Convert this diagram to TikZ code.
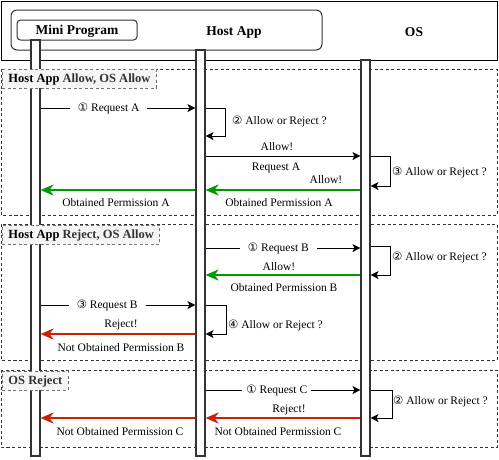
\documentclass[tikz,border=0pt]{standalone}
\usepackage{fontspec}
\setmainfont{Liberation Serif}
\newfontfamily\symfont{DejaVu Sans}
\usetikzlibrary{arrows.meta}
\definecolor{okgreen}{RGB}{0,153,0}
\definecolor{nored}{RGB}{204,32,0}
\definecolor{lblgrey}{RGB}{51,51,51}
\definecolor{tagfill}{RGB}{245,245,245}
\newcommand{\cn}[1]{{\symfont\fontsize{11.5}{12}\selectfont #1}}
\tikzset{
  secbox/.style={draw=lblgrey, line width=0.9pt, dash pattern=on 3pt off 2.5pt},
  tagbox/.style={draw=black!55, fill=tagfill, line width=0.9pt, dash pattern=on 3pt off 2.5pt,
    inner xsep=6pt, inner ysep=0pt, minimum height=19pt, anchor=north west,
    text height=9pt, text depth=1pt,
    font=\fontsize{12.5}{14}\selectfont\bfseries},
  lifebar/.style={draw=black!80, fill=white, line width=1.1pt, inner sep=0pt, minimum width=9pt},
  titletext/.style={font=\fontsize{13.5}{15}\selectfont\bfseries, inner sep=0pt},
  lbl/.style={font=\fontsize{11.5}{13}\selectfont, inner sep=1pt},
  onln/.style={lbl, fill=white, inner xsep=8pt},
  msg/.style={draw=black, line width=0.9pt, -{Stealth[length=8pt,width=8pt,inset=2pt]}},
  okarr/.style={draw=okgreen, line width=2pt, -{Stealth[length=13pt,width=11pt,inset=4pt]}},
  noarr/.style={draw=nored, line width=2pt, -{Stealth[length=13pt,width=11pt,inset=4pt]}},
}
\begin{document}
\begin{tikzpicture}[x=1pt,y=-1pt]
\useasboundingbox (0,0) rectangle (499,459);
% section frames
\draw[secbox] (1,69) rectangle (497,215);
\draw[secbox] (1,224) rectangle (497,360);
\draw[secbox] (1,370) rectangle (497,447);
% header
\node[draw=black, line width=1pt, inner sep=0pt, minimum width=496pt, minimum height=59pt] (frame) at (249,30.5) {};
\node[draw=black!80, line width=1pt, rounded corners=6pt, inner sep=0pt, minimum width=311pt, minimum height=40pt] (hostbox) at (166.5,30) {};
\node[titletext] (hosttitle) at (234,32) {Host App};
\node[titletext] (ostitle) at (414,32) {OS};
\node[draw=black!80, line width=1pt, rounded corners=3.5pt, inner sep=0pt, minimum width=120pt, minimum height=20pt,
  titletext, text height=9.5pt, text depth=1pt] (mpbox) at (77,30) {Mini Program};
% lifelines
\node[lifebar, minimum height=416pt] (mpL) at (35.5,248) {};
\node[lifebar, minimum height=406pt] (haL) at (200.5,253) {};
\node[lifebar, minimum height=396pt] (osL) at (365.5,258) {};
% section tags
\node[tagbox] (tag1) at (2,69) {Host App {\color{lblgrey}Allow, OS Allow}};
\node[tagbox] (tag2) at (2,225) {Host App {\color{lblgrey}Reject, OS Allow}};
\node[tagbox] (tag3) at (2,370.5) {\color{lblgrey}OS Reject};
% ---- section 1
\draw[msg] (mpL.east |- 0,108) -- node[onln, pos=0.44] (m1) {\cn{①} Request A} (haL.west |- 0,108);
\draw[msg] (haL.east |- 0,108) -- ++(20,0) coordinate (l1a) -- (l1a |- 0,136) -- (haL.east |- 0,136);
\node[lbl, anchor=west] (q1) at (231,121) {\cn{②} Allow or Reject ?};
\draw[msg] (haL.east |- 0,156) -- (osL.west |- 0,156);
\node[lbl] (a1) at (277,147) {Allow!};
\node[lbl] (r1) at (276,168) {Request A};
\node[lbl] (a2) at (326,180) {Allow!};
\draw[msg] (osL.east |- 0,156) -- ++(20,0) coordinate (l1b) -- (l1b |- 0,186) -- (osL.east |- 0,186);
\node[lbl, anchor=west] (q2) at (391,172) {\cn{③} Allow or Reject ?};
\draw[okarr] (osL.west |- 0,190) -- (haL.east |- 0,190);
\node[lbl] (o1) at (279,203) {Obtained Permission A};
\draw[okarr] (haL.west |- 0,190) -- (mpL.east |- 0,190);
\node[lbl] (o2) at (116,203) {Obtained Permission A};
% ---- section 2
\draw[msg] (haL.east |- 0,248) -- node[onln, pos=0.47] (m2) {\cn{①} Request B} (osL.west |- 0,248);
\draw[msg] (osL.east |- 0,246) -- ++(20,0) coordinate (l2a) -- (l2a |- 0,275) -- (osL.east |- 0,275);
\node[lbl, anchor=west] (q3) at (391,257) {\cn{②} Allow or Reject ?};
\draw[okarr] (osL.west |- 0,275) -- (haL.east |- 0,275);
\node[lbl] (a3) at (279,267) {Allow!};
\node[lbl] (o3) at (284,288) {Obtained Permission B};
\draw[msg] (mpL.east |- 0,305) -- node[onln, pos=0.43] (m3) {\cn{③} Request B} (haL.west |- 0,305);
\draw[msg] (haL.east |- 0,305) -- ++(21,0) coordinate (l2b) -- (l2b |- 0,334) -- (haL.east |- 0,334);
\node[lbl, anchor=west] (q4) at (227,325) {\cn{④} Allow or Reject ?};
\draw[noarr] (haL.west |- 0,334) -- (mpL.east |- 0,334);
\node[lbl] (rj1) at (121,325) {Reject!};
\node[lbl] (n1) at (121,348) {Not Obtained Permission B};
% ---- section 3
\draw[msg] (haL.east |- 0,390) -- node[onln, pos=0.46, inner xsep=4pt] (m4) {\cn{①} Request C} (osL.west |- 0,390);
\draw[msg] (osL.east |- 0,390) -- ++(22,0) coordinate (l3a) -- (l3a |- 0,418) -- (osL.east |- 0,418);
\node[lbl, anchor=west] (q5) at (392,401) {\cn{②} Allow or Reject ?};
\draw[noarr] (osL.west |- 0,418) -- (haL.east |- 0,418);
\node[lbl] (rj2) at (289,410) {Reject!};
\node[lbl] (n2) at (278,432) {Not Obtained Permission C};
\draw[noarr] (haL.west |- 0,418) -- (mpL.east |- 0,418);
\node[lbl] (n3) at (120,432) {Not Obtained Permission C};
\end{tikzpicture}
\end{document}
